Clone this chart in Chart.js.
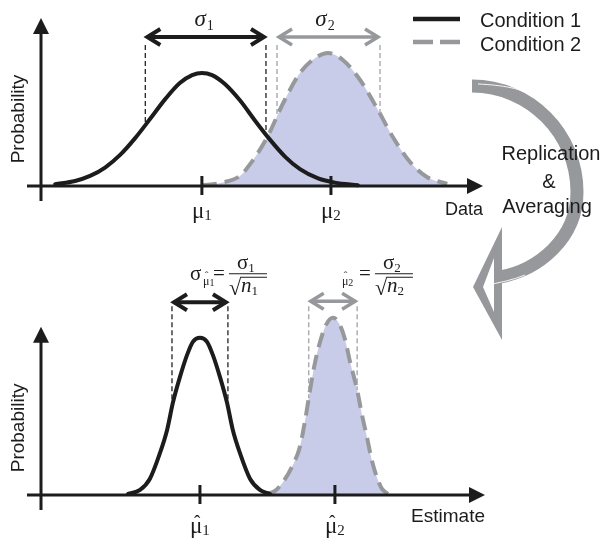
<!DOCTYPE html>
<html>
<head>
<meta charset="utf-8">
<script src="https://cdn.jsdelivr.net/npm/chart.js@4.4.1/dist/chart.umd.min.js"></script>
<style>
  body { margin: 0; background: #fff; }
  #wrap { position: relative; width: 607px; height: 538px; }
  canvas { position: absolute; left: 0; top: 0; }
</style>
</head>
<body>
<div id="wrap">
  <canvas id="topChart" width="607" height="538"></canvas>
  <canvas id="bottomChart" width="607" height="538"></canvas>
</div>
<script>
// values (x: arbitrary units 0-10 along the axis, y: probability 0-1)
const topBlackX = [0.32, 0.77, 1.11, 1.45, 1.79, 2.13, 2.47, 2.81, 3.14, 3.42, 3.64, 3.87, 4.16, 4.50, 4.84, 5.18, 5.52, 5.86, 6.27, 6.65, 7.17];
const topBlackY = [0.011, 0.03, 0.06, 0.11, 0.185, 0.285, 0.40, 0.517, 0.613, 0.66, 0.673, 0.66, 0.607, 0.51, 0.39, 0.276, 0.175, 0.10, 0.045, 0.02, 0.005];
const topGrayX = [3.64, 4.05, 4.50, 4.73, 5.11, 5.48, 5.86, 6.24, 6.49, 6.83, 7.22, 7.60, 7.96, 8.35, 8.73, 9.19];
const topGrayY = [0.004, 0.018, 0.06, 0.13, 0.286, 0.494, 0.673, 0.768, 0.792, 0.75, 0.631, 0.464, 0.292, 0.143, 0.054, 0.012];

const botBlackX = [1.96, 2.23, 2.45, 2.68, 2.84, 2.97, 3.13, 3.29, 3.42, 3.58, 3.74, 3.87, 4.03, 4.19, 4.32, 4.48, 4.71, 4.93, 5.16];
const botBlackY = [0.006, 0.03, 0.095, 0.25, 0.387, 0.548, 0.702, 0.833, 0.911, 0.935, 0.911, 0.833, 0.702, 0.548, 0.387, 0.25, 0.095, 0.03, 0.006];
const botGrayX = [5.09, 5.27, 5.45, 5.65, 5.83, 5.95, 6.06, 6.17, 6.28, 6.42, 6.58, 6.73, 6.85, 6.96, 7.12, 7.23, 7.34, 7.45, 7.57, 7.68, 7.82];
const botGrayY = [0.006, 0.024, 0.077, 0.167, 0.286, 0.446, 0.625, 0.786, 0.905, 1.012, 1.054, 1.012, 0.923, 0.792, 0.625, 0.476, 0.345, 0.208, 0.101, 0.036, 0.006];

// means (tick marks) and one-sigma ranges
const topMu = [3.64, 6.56];
const botMu = [3.58, 6.62];
const topSigma1 = [2.36, 5.09];
const topSigma2 = [5.34, 7.67];
const botSigma1 = [2.95, 4.21];
const botSigma2 = [6.03, 7.12];

const legendLabels = ['Condition 1', 'Condition 2'];
const arrowLines = ['Replication', '&', 'Averaging'];
const yTitle = 'Probability';
const topXTitle = 'Data';
const botXTitle = 'Estimate';

const ink = '#1c1c1c';
const grey = '#97989b';
const lavender = '#c9cce9';
const SANS = '"Liberation Sans", Arial, sans-serif';
const SERIF = '"Liberation Serif", "Times New Roman", serif';

function pts(xs, ys) {
  return xs.map((x, i) => ({ x: x, y: ys[i] }));
}

// linear read of a curve at value v (used to stop the dashed guides on the curve)
function curveAt(xs, ys, v) {
  for (let i = 0; i < xs.length - 1; i++) {
    if (v >= xs[i] && v <= xs[i + 1]) {
      const t = (v - xs[i]) / (xs[i + 1] - xs[i]);
      return ys[i] + t * (ys[i + 1] - ys[i]);
    }
  }
  return 0;
}

function chevron(ctx, x, y, dir) {
  ctx.beginPath();
  ctx.moveTo(x - dir * 13, y - 8);
  ctx.lineTo(x, y);
  ctx.lineTo(x - dir * 13, y + 8);
  ctx.stroke();
}

function sigmaGuide(ctx, X, Y, range, xs, ys, color, dashColor, lw, yArrow, yDash) {
  ctx.save();
  ctx.setLineDash([5, 3]);
  ctx.lineWidth = 1.3;
  ctx.strokeStyle = dashColor;
  range.forEach(v => {
    ctx.beginPath();
    ctx.moveTo(X(v), Y(yDash));
    ctx.lineTo(X(v), Y(curveAt(xs, ys, v)));
    ctx.stroke();
  });
  ctx.setLineDash([]);
  const a = X(range[0]), b = X(range[1]), y = Y(yArrow);
  ctx.strokeStyle = color;
  ctx.lineWidth = lw;
  ctx.lineJoin = 'miter';
  ctx.beginPath();
  ctx.moveTo(a + 2, y);
  ctx.lineTo(b - 2, y);
  ctx.stroke();
  chevron(ctx, a + 2, y, -1);
  chevron(ctx, b - 2, y, 1);
  ctx.restore();
}

function muLabel(ctx, cx, base, sub, hat) {
  ctx.save();
  ctx.fillStyle = ink;
  ctx.textAlign = 'left';
  ctx.textBaseline = 'alphabetic';
  ctx.font = '23px ' + SERIF;
  const w1 = ctx.measureText('\u03bc').width;
  ctx.font = '15px ' + SERIF;
  const w2 = ctx.measureText(sub).width;
  const left = cx - (w1 + w2) / 2;
  ctx.font = '23px ' + SERIF;
  ctx.fillText('\u03bc', left, base);
  ctx.font = '15px ' + SERIF;
  ctx.fillText(sub, left + w1, base + 2);
  if (hat) {
    ctx.font = '19px ' + SERIF;
    ctx.textAlign = 'center';
    ctx.fillText('\u02c6', left + w1 / 2 + 1, base - 5);
  }
  ctx.restore();
}

function sigmaLabel(ctx, cx, base, sub) {
  ctx.save();
  ctx.fillStyle = ink;
  ctx.font = 'italic 23px ' + SERIF;
  const w1 = ctx.measureText('\u03c3').width;
  ctx.font = '14px ' + SERIF;
  const w2 = ctx.measureText(sub).width;
  const left = cx - (w1 + w2) / 2 - 2;
  ctx.font = 'italic 23px ' + SERIF;
  ctx.fillText('\u03c3', left, base);
  ctx.font = '14px ' + SERIF;
  ctx.fillText(sub, left + w1 + 1, base + 4);
  ctx.restore();
}

// sigma_mu-hat = sigma / sqrt(n); e = left of "=", mb = main baseline
function formula(ctx, e, mb, idx, showSigma, subLeft) {
  ctx.save();
  ctx.fillStyle = ink;
  ctx.strokeStyle = ink;
  if (showSigma) {
    ctx.font = '21px ' + SERIF;
    ctx.fillText('\u03c3', e - 23, mb);
  }
  ctx.font = '12px ' + SERIF;
  const wm = ctx.measureText('\u03bc').width;
  ctx.fillText('\u03bc', subLeft, mb + 5);
  ctx.font = '10px ' + SERIF;
  ctx.fillText(idx, subLeft + wm, mb + 6);
  ctx.font = '11px ' + SERIF;
  ctx.textAlign = 'center';
  ctx.fillText('\u02c6', subLeft + wm / 2 + 0.5, mb - 1);
  ctx.textAlign = 'left';
  ctx.font = '21px ' + SERIF;
  ctx.fillText('=', e, mb);
  // numerator
  ctx.fillText('\u03c3', e + 24, mb - 11);
  const ws = ctx.measureText('\u03c3').width;
  ctx.font = '13px ' + SERIF;
  ctx.fillText(idx, e + 24 + ws, mb - 8);
  ctx.lineWidth = 1;
  ctx.beginPath();
  ctx.moveTo(e + 16, mb - 6.5);
  ctx.lineTo(e + 54, mb - 6.5);
  ctx.stroke();
  // denominator
  ctx.font = '22px ' + SERIF;
  ctx.fillText('\u221a', e + 16, mb + 15);
  ctx.beginPath();
  ctx.moveTo(e + 27, mb - 3);
  ctx.lineTo(e + 54, mb - 3);
  ctx.stroke();
  ctx.font = 'italic 21px ' + SERIF;
  ctx.fillText('n', e + 28, mb + 12);
  const wn = ctx.measureText('n').width;
  ctx.font = '13px ' + SERIF;
  ctx.fillText(idx, e + 28 + wn, mb + 15);
  ctx.restore();
}

function drawPanel(chart, p) {
  const ctx = chart.ctx;
  const xs = chart.scales.x, ys = chart.scales.y;
  const X = v => xs.getPixelForValue(v);
  const Y = v => ys.getPixelForValue(v);
  const x0 = X(0), y0 = Y(0), yTip = Y(1), xTip = X(10);
  ctx.save();
  // axes with arrow heads
  ctx.strokeStyle = ink;
  ctx.fillStyle = ink;
  ctx.lineWidth = 3;
  ctx.beginPath();
  ctx.moveTo(x0, yTip + 14);
  ctx.lineTo(x0, y0 + 15);
  ctx.moveTo(x0 - 14, y0);
  ctx.lineTo(xTip - 14, y0);
  ctx.stroke();
  ctx.beginPath();
  ctx.moveTo(x0, yTip);
  ctx.lineTo(x0 - 8, yTip + 16);
  ctx.lineTo(x0 + 8, yTip + 16);
  ctx.closePath();
  ctx.fill();
  ctx.beginPath();
  ctx.moveTo(xTip, y0);
  ctx.lineTo(xTip - 16, y0 - 8);
  ctx.lineTo(xTip - 16, y0 + 8);
  ctx.closePath();
  ctx.fill();
  // mean ticks
  p.mu.forEach(v => {
    ctx.beginPath();
    ctx.moveTo(X(v), y0 - 10);
    ctx.lineTo(X(v), y0 + 9);
    ctx.stroke();
  });
  p.mu.forEach((v, i) => muLabel(ctx, X(v), y0 + p.muBase, String(i + 1), p.hat));
  // axis titles
  ctx.font = p.xFont + 'px ' + SANS;
  ctx.textAlign = 'right';
  ctx.fillText(p.xTitle, xTip, y0 + p.xBase);
  ctx.save();
  ctx.translate(19, (yTip + y0) / 2 + 17);
  ctx.rotate(-Math.PI / 2);
  ctx.textAlign = 'center';
  ctx.textBaseline = 'middle';
  ctx.font = '19px ' + SANS;
  ctx.fillText(yTitle, 0, 0);
  ctx.restore();
  ctx.restore();
  // sigma guides
  sigmaGuide(ctx, X, Y, p.s1, p.bx, p.by, ink, '#222222', 4, p.arrowY1, p.dashY);
  sigmaGuide(ctx, X, Y, p.s2, p.gx, p.gy, grey, '#a2a3a6', 3.5, p.arrowY2, p.dashY);
  return { X, Y, x0, y0, xTip, yTip };
}

const topPlugin = {
  id: 'topPanel',
  afterDatasetsDraw(chart) {
    const ctx = chart.ctx;
    const g = drawPanel(chart, {
      mu: topMu, hat: false, muBase: 32, xTitle: topXTitle, xFont: 18, xBase: 29,
      s1: topSigma1, s2: topSigma2, bx: topBlackX, by: topBlackY, gx: topGrayX, gy: topGrayY,
      arrowY1: 0.887, arrowY2: 0.887, dashY: 0.84
    });
    const { X, Y } = g;
    sigmaLabel(ctx, (X(topSigma1[0]) + X(topSigma1[1])) / 2, Y(0.887) - 11, '1');
    sigmaLabel(ctx, (X(topSigma2[0]) + X(topSigma2[1])) / 2 - 2, Y(0.887) - 11, '2');

    const ax = g.xTip, ay = g.y0, top = chart.chartArea.top;
    // legend
    ctx.save();
    ctx.lineWidth = 4.5;
    ctx.strokeStyle = ink;
    ctx.beginPath();
    ctx.moveTo(ax - 70, top + 1);
    ctx.lineTo(ax - 23, top + 1);
    ctx.stroke();
    ctx.strokeStyle = grey;
    ctx.setLineDash([20, 7]);
    ctx.beginPath();
    ctx.moveTo(ax - 70, top + 24);
    ctx.lineTo(ax - 23, top + 24);
    ctx.stroke();
    ctx.setLineDash([]);
    ctx.fillStyle = ink;
    ctx.font = '20px ' + SANS;
    ctx.fillText(legendLabels[0], ax - 3, top + 9);
    ctx.fillText(legendLabels[1], ax - 3, top + 33);

    // curved "replication & averaging" arrow
    ctx.strokeStyle = grey;
    ctx.lineWidth = 13;
    ctx.beginPath();
    ctx.moveTo(ax - 11, ay - 100);
    ctx.bezierCurveTo(ax + 47, ay - 100, ax + 94, ay - 52, ax + 94, ay + 6);
    ctx.bezierCurveTo(ax + 94, ay + 53, ax + 55, ay + 84, ax + 17, ay + 91);
    ctx.stroke();
    ctx.fillStyle = grey;
    ctx.beginPath();
    ctx.moveTo(ax + 19, ay + 41);
    ctx.lineTo(ax - 10, ay + 101);
    ctx.lineTo(ax + 19, ay + 154);
    ctx.closePath();
    ctx.moveTo(ax + 11, ay + 72);
    ctx.lineTo(ax + 0, ay + 101);
    ctx.lineTo(ax + 11, ay + 126);
    ctx.closePath();
    ctx.fill('evenodd');
    // thin highlight on the band
    ctx.strokeStyle = 'rgba(255,255,255,0.9)';
    ctx.lineWidth = 1;
    ctx.beginPath();
    ctx.moveTo(ax - 5, ay - 102);
    ctx.bezierCurveTo(ax + 20, ay - 101, ax + 40, ay - 97, ax + 50, ay - 90);
    ctx.stroke();
    ctx.beginPath();
    ctx.moveTo(ax + 42, ay + 89);
    ctx.bezierCurveTo(ax + 30, ay + 94, ax + 15, ay + 97, ax + 4, ay + 99);
    ctx.stroke();
    ctx.fillStyle = ink;
    ctx.font = '20px ' + SANS;
    ctx.textAlign = 'center';
    ctx.fillText(arrowLines[0], ax + 68, ay - 26);
    ctx.fillText(arrowLines[1], ax + 66, ay + 2);
    ctx.fillText(arrowLines[2], ax + 64, ay + 27);
    ctx.restore();
  }
};

const bottomPlugin = {
  id: 'bottomPanel',
  afterDatasetsDraw(chart) {
    const ctx = chart.ctx;
    const g = drawPanel(chart, {
      mu: botMu, hat: true, muBase: 38, xTitle: botXTitle, xFont: 19, xBase: 27,
      s1: botSigma1, s2: botSigma2, bx: botBlackX, by: botBlackY, gx: botGrayX, gy: botGrayY,
      arrowY1: 1.146, arrowY2: 1.152, dashY: 1.122
    });
    const { X, Y } = g;
    const mb = Y(1.146) - 22;
    formula(ctx, X(botMu[0]) + 13, mb, '1', true, X(botMu[0]) + 3);
    formula(ctx, X(botMu[1]) + 24, mb, '2', false, X(botMu[1]) + 7);
  }
};

function makeChart(id, pad, yMax, black, gray, plugin) {
  return new Chart(document.getElementById(id), {
    type: 'line',
    data: {
      datasets: [
        {
          label: legendLabels[0],
          data: black,
          borderColor: ink,
          borderWidth: 4,
          borderCapStyle: 'round',
          pointRadius: 0,
          fill: false,
          cubicInterpolationMode: 'monotone',
          clip: false,
          order: 0
        },
        {
          label: legendLabels[1],
          data: gray,
          borderColor: grey,
          borderWidth: 4,
          borderDash: [15, 8],
          pointRadius: 0,
          fill: 'origin',
          backgroundColor: lavender,
          cubicInterpolationMode: 'monotone',
          clip: false,
          order: 1
        }
      ]
    },
    options: {
      responsive: false,
      animation: false,
      events: [],
      layout: { padding: pad },
      scales: {
        x: { type: 'linear', min: 0, max: 10, display: false },
        y: { min: 0, max: yMax, display: false }
      },
      plugins: { legend: { display: false }, tooltip: { enabled: false } }
    },
    plugins: [plugin]
  });
}

makeChart('topChart', { left: 41, right: 124, top: 18, bottom: 352 }, 1,
  pts(topBlackX, topBlackY), pts(topGrayX, topGrayY), topPlugin);
makeChart('bottomChart', { left: 41, right: 122, top: 310, bottom: 43 }, 1.1,
  pts(botBlackX, botBlackY), pts(botGrayX, botGrayY), bottomPlugin);
</script>
</body>
</html>
